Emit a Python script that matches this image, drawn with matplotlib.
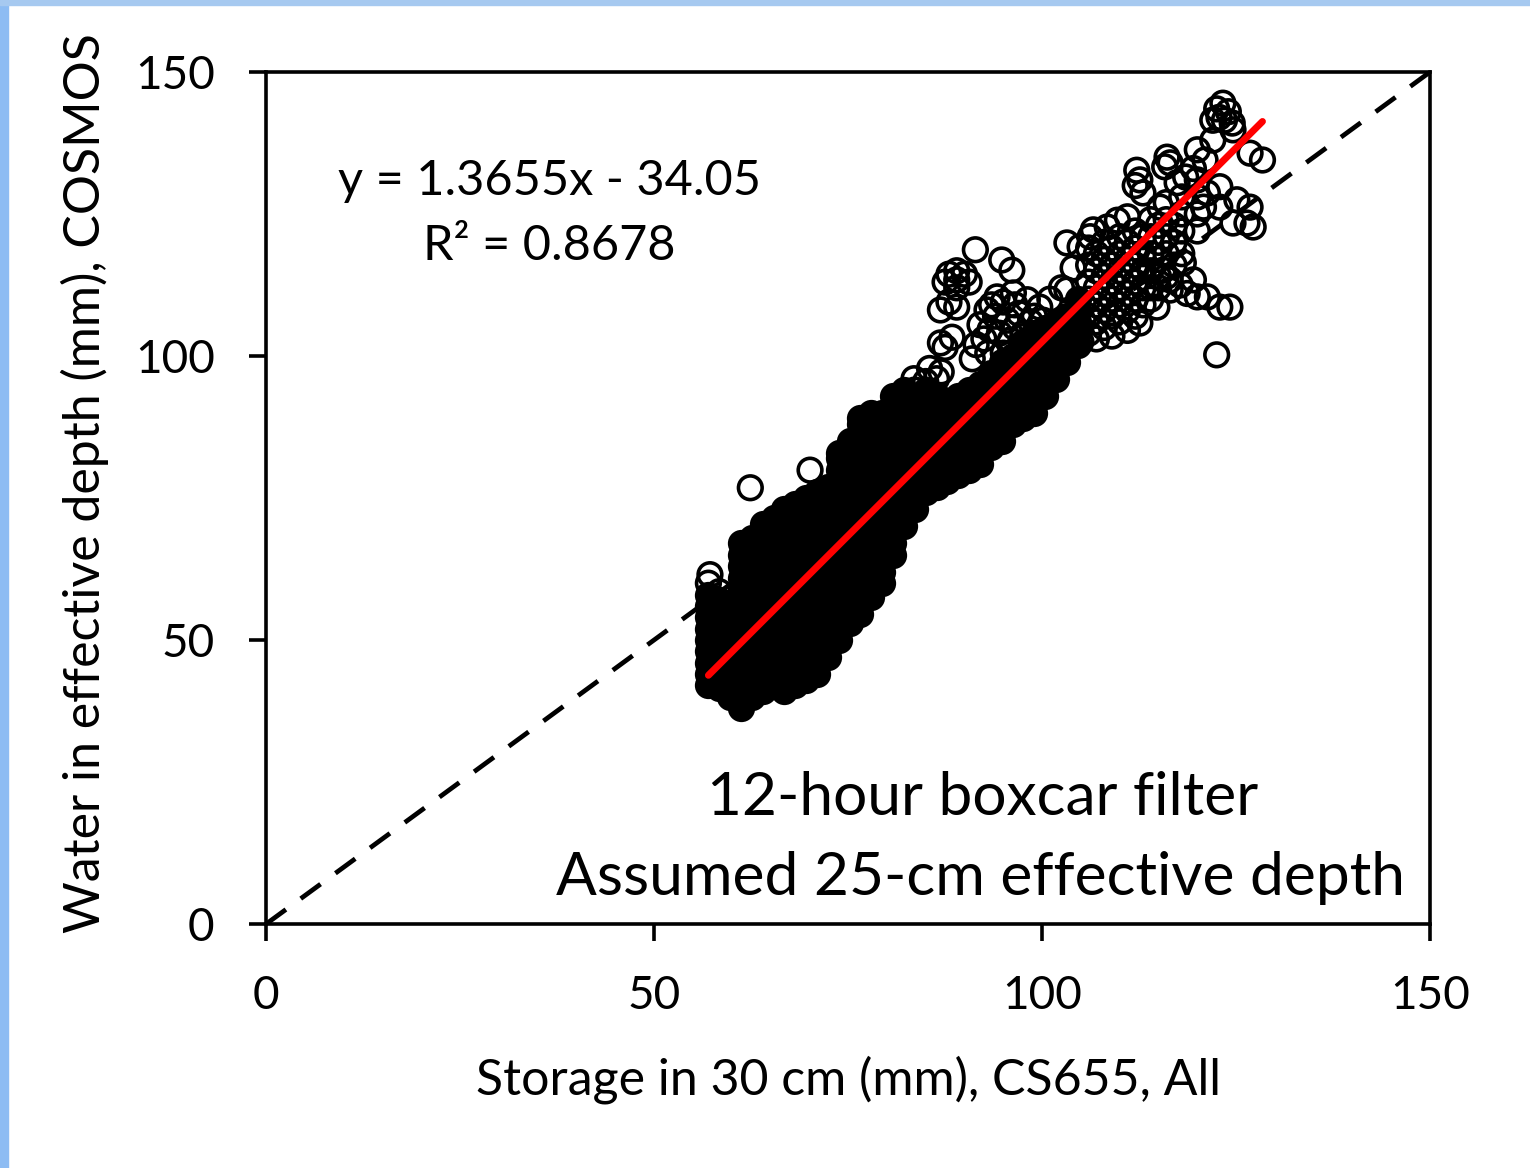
import matplotlib.pyplot as plt
from matplotlib.patches import Rectangle

plt.rcParams['font.family'] = ['Lato', 'DejaVu Sans']

# dense part of the cloud: one column of points per x value
core_x = [57.0, 58.4, 59.8, 61.2, 62.6, 64.0, 65.4, 66.8, 68.2, 69.6, 71.0, 72.4,
          73.8, 75.2, 76.6, 78.0, 79.4, 80.8, 82.2, 83.6, 85.0, 86.4, 87.8, 89.2,
          90.6, 92.0, 93.4, 94.8, 96.2, 97.6, 99.0, 100.4, 101.8, 103.2, 104.6]
core_y = [
    [42, 44, 46, 48, 50, 52, 54, 56, 58],
    [41.5, 43, 45, 47, 49, 51, 53, 55, 57],
    [40, 42, 44, 46, 48, 50, 52, 54, 56],
    [38, 39, 41, 43, 45, 47, 49, 51, 53, 55, 57, 59, 61, 63, 65, 67],
    [40, 42, 44, 46, 48, 50, 52, 54, 56, 58, 60, 62, 64, 66, 68],
    [41, 43, 45, 47, 49, 51, 53, 55, 57, 59, 61, 63, 65, 67, 69, 70.5],
    [42, 44, 46, 48, 50, 52, 54, 56, 58, 60, 62, 64, 66, 68, 70, 71.5],
    [41, 43, 45, 47, 49, 51, 53, 55, 57, 59, 61, 63, 65, 67, 69, 71, 73],
    [42, 44, 46, 48, 50, 52, 54, 56, 58, 60, 62, 64, 66, 68, 70, 72, 74],
    [43, 45, 47, 49, 51, 53, 55, 57, 59, 61, 63, 65, 67, 69, 71, 73, 75],
    [44, 46, 48, 50, 52, 54, 56, 58, 60, 62, 64, 66, 68, 70, 72, 74, 76],
    [47, 49, 51, 53, 55, 57, 59, 61, 63, 65, 67, 69, 71, 73, 75, 77],
    [50, 52, 54, 56, 58, 60, 62, 64, 66, 68, 70, 72, 74, 76, 78, 80, 82, 83],
    [53, 55, 57, 59, 61, 63, 65, 67, 69, 71, 73, 75, 77, 79, 81, 83, 85],
    [54.5, 56, 58, 60, 62, 64, 66, 68, 70, 72, 74, 76, 78, 80, 82, 84, 86, 88, 89],
    [57.5, 59, 61, 63, 65, 67, 69, 71, 73, 75, 77, 79, 81, 83, 85, 87, 89, 90],
    [60, 62, 64, 66, 68, 70, 72, 74, 76, 78, 80, 82, 84, 86, 88, 90],
    [65, 67, 69, 71, 73, 75, 77, 79, 81, 83, 85, 87, 89, 91, 93],
    [70, 72, 74, 76, 78, 80, 82, 84, 86, 88, 90, 92, 94],
    [73, 75, 77, 79, 81, 83, 85, 87, 89, 91, 93],
    [76, 78, 80, 82, 84, 86, 88, 90, 92, 94],
    [77, 79, 81, 83, 85, 87, 89, 91, 93],
    [78, 80, 82, 84, 86, 88, 90, 92],
    [79, 81, 83, 85, 87, 89, 91, 93],
    [80, 82, 84, 86, 88, 90, 92, 94],
    [81, 83, 85, 87, 89, 91, 93, 95],
    [84, 86, 88, 90, 92, 94, 96, 97],
    [85, 87, 89, 91, 93, 95, 97, 99],
    [88, 90, 92, 94, 96, 98, 100],
    [89, 91, 93, 95, 97, 99, 101, 102.5],
    [90, 92, 94, 96, 98, 100, 102, 104],
    [93, 95, 97, 99, 101, 103, 105],
    [96, 98, 100, 102, 104, 106],
    [99, 101, 103, 105, 107],
    [102, 104, 106, 108, 110],
]

# looser band further up
band_x = [106.0, 107.0, 108.0, 109.0, 110.0, 111.0, 112.0, 113.0, 114.0, 115.0,
          116.0, 117.0, 118.0, 120.0]
band_y = [
    [104, 107, 110, 113, 116, 119],
    [106, 109, 112, 115, 118],
    [105, 108, 111, 114, 117, 120],
    [107, 110, 113, 116, 119],
    [106, 109, 112, 115, 118, 121],
    [108, 111, 114, 117, 120],
    [107, 110, 113, 116, 119, 122],
    [109, 112, 115, 118, 121],
    [110, 112, 115, 118, 121, 124],
    [112, 114, 117, 120, 123],
    [114, 118, 121, 124, 127],
    [116, 120, 123],
    [118, 122, 125, 128],
    [122, 125, 128, 131],
]

# single circles standing out of the cloud
ring_x = [57.0, 57.2, 58.4, 62.4, 70.1, 83.5, 85.5, 87.0, 86.4, 85.0, 83.6,
          88.0, 90.0, 90.6, 89.0, 87.5, 89.0, 89.0,
          91.4, 86.9, 89.0, 88.0, 86.9, 88.4, 87.5, 94.8, 96.1, 92.9, 94.2, 96.3,
          98.1, 99.7, 100.1, 95.5, 93.3, 95.9, 97.6, 94.0, 97.0, 92.0, 99.0, 91.5,
          93.0, 93.5, 95.0, 96.5, 98.5, 96.5, 94.5, 92.5, 98.0, 100.5, 95.0, 97.0, 91.0,
          103.2, 104.9, 106.6, 106.2, 108.4, 109.7, 111.0, 101.0, 102.5, 104.0,
          103.2, 105.0, 107.0, 109.0, 111.0, 112.6, 114.8, 116.5, 112.2, 112.6, 113.0,
          112.0, 116.1, 115.8, 116.5, 117.4, 118.5, 120.0, 121.3, 122.9, 122.0, 124.6,
          122.5, 123.3, 124.0, 123.5, 122.8, 124.5, 122.0, 126.8, 128.4, 125.1, 126.8,
          126.4, 124.6, 127.2, 122.9, 120.8, 115.2, 119.5, 121.0, 118.2, 119.5, 121.3,
          122.9, 124.2, 120.0, 118.7, 117.8, 116.5, 115.6, 122.5]
ring_y = [60.0, 61.5, 58.5, 76.8, 79.9, 96.0, 97.8, 97.2, 96.0, 95.5, 94.0,
          114.4, 114.4, 113.0, 112.0, 113.0, 115.0, 113.4,
          118.7, 108.1, 108.6, 109.5, 102.3, 103.3, 101.5, 116.9, 115.1, 108.1, 110.4, 111.1,
          109.9, 108.6, 106.3, 106.3, 104.6, 102.8, 104.0, 107.0, 107.5, 105.5, 107.0, 102.0,
          100.5, 109.0, 109.5, 109.0, 106.0, 105.0, 104.0, 103.0, 102.5, 104.0, 100.5, 100.0, 99.5,
          119.9, 119.2, 122.2, 121.0, 122.7, 123.9, 124.5, 110.0, 112.0, 115.5,
          111.6, 102.5, 103.0, 103.5, 104.5, 105.8, 108.6, 111.6, 132.7, 131.0, 128.7,
          130.0, 135.0, 133.3, 134.0, 130.5, 131.5, 136.3, 128.7, 129.8, 138.0, 139.8,
          143.5, 144.5, 143.0, 141.5, 142.0, 141.0, 141.5, 135.7, 134.5, 127.5, 126.2,
          123.4, 123.4, 122.7, 126.2, 126.2, 126.2, 133.0, 134.5, 116.4, 113.4, 110.4,
          108.6, 108.6, 110.4, 111.0, 112.5, 113.4, 115.1, 100.2]

slope = 1.3655
intercept = -34.05
r2 = 0.8678
ticks = [0, 50, 100, 150]

core_px, core_py = [], []
for cx, col in zip(core_x, core_y):
    core_px += [cx] * len(col)
    core_py += col
loose_px, loose_py = [], []
for cx, col in zip(band_x, band_y):
    loose_px += [cx] * len(col)
    loose_py += col
loose_px += ring_x
loose_py += ring_y

fig = plt.figure(figsize=(15.3, 11.68), dpi=100)
# light blue frame of the slide
fig.patches.append(Rectangle((0, 0), 8 / 1530, 1, transform=fig.transFigure,
                             color='#8dbcf3', zorder=0))
fig.patches.append(Rectangle((0, 1 - 5 / 1168), 1, 5 / 1168, transform=fig.transFigure,
                             color='#a6c9f0', zorder=0))

ax = fig.add_axes([0.1739, 0.2089, 0.7608, 0.7295])

ax.plot([0, 150], [0, 150], color='black', lw=3.4, ls=(0, (5.2, 3.9)), zorder=1)
# the core is thousands of overlapping rings in the original -> reads as solid black
ax.scatter(core_px, core_py, s=290, facecolors='black', edgecolors='black',
           linewidths=2.6, zorder=2)
ax.scatter(loose_px, loose_py, s=290, facecolors='none', edgecolors='black',
           linewidths=2.6, zorder=2)
allx = core_px + loose_px
x0, x1 = min(allx), max(allx)
ax.plot([x0, x1], [slope * x0 + intercept, slope * x1 + intercept],
        color='#ff0000', lw=5, solid_capstyle='round', zorder=3)

ax.set_xlim(0, 150)
ax.set_ylim(0, 150)
ax.set_xticks(ticks)
ax.set_yticks(ticks)
ax.tick_params(direction='out', length=12, width=2.6, labelsize=33, pad=25,
               top=False, right=False)
for sp in ax.spines.values():
    sp.set_linewidth(2.6)

ax.set_xlabel('Storage in 30 cm (mm), CS655, All', fontsize=36, labelpad=27)
fig.text(85 / 1530, 1 - 483 / 1168, 'Water in effective depth (mm), COSMOS',
         rotation=90, ha='center', va='center', fontsize=36)

ax.text(36.5, 128.3, 'y = %.4fx - %.2f' % (slope, -intercept), ha='center',
        va='baseline', fontsize=35)
ax.text(36.5, 116.9, 'R² = %.4f' % r2, ha='center', va='baseline', fontsize=35)

ax.text(92.3, 19.2, '12-hour boxcar filter', ha='center', va='baseline', fontsize=43.5)
ax.text(92.0, 5.1, 'Assumed 25-cm effective depth', ha='center', va='baseline',
        fontsize=43.5)

fig.savefig('out.png', dpi=100)
